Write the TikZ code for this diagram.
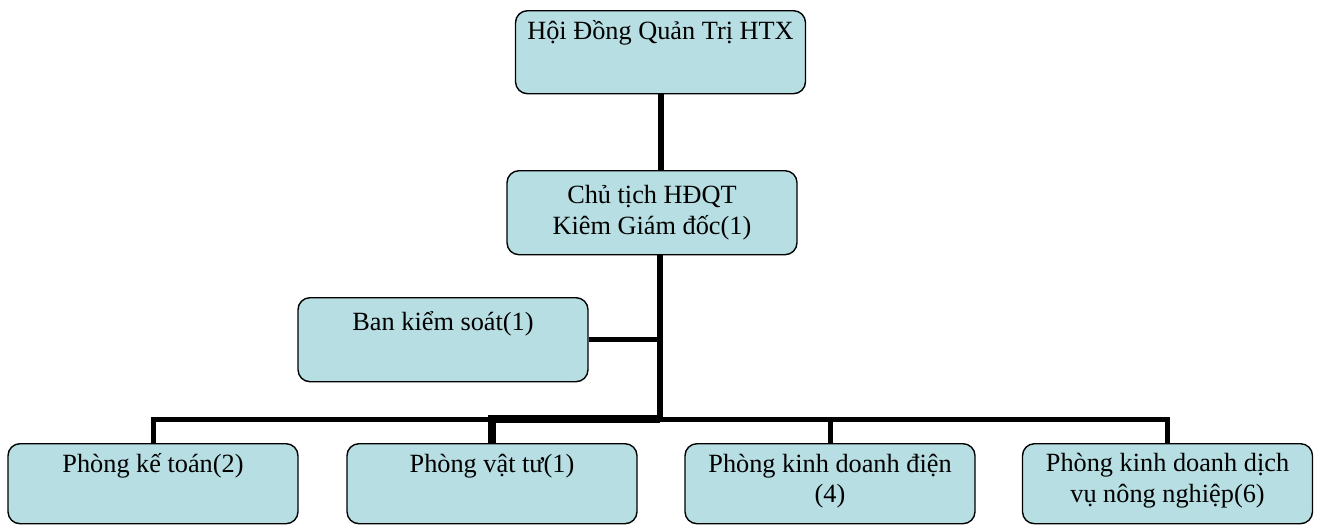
\documentclass[tikz,border=0pt]{standalone}
\usepackage{fontspec}
\setmainfont{Liberation Serif}
\usetikzlibrary{positioning,calc}
\definecolor{orgFill}{RGB}{183,222,226}
\newcommand{\boxtext}[3][t]{\parbox[t][#2][#1]{270pt}{\centering #3}}

\begin{document}
\begin{tikzpicture}[x=1pt,y=-1pt,font=\fontsize{26.3}{30.5}\selectfont,
      unit/.style={draw=black,fill=orgFill,line width=1.4pt,rounded corners=12pt,anchor=north,
        inner xsep=0pt,inner ysep=10pt,minimum width=290pt},
      trunk/.style={line width=6pt},
      link/.style={line width=5pt},
      heavy/.style={line width=8pt}]
      \useasboundingbox (0,0) rectangle (1319,525);
      \node[unit] (htx) at (660.5,10) {\boxtext{63pt}{Hội Đồng Quản Trị HTX}};
      \node[unit] (ct) at (652,170) {\boxtext[c]{64pt}{Chủ tịch HĐQT\\Kiêm Giám đốc(1)}};
      \node[unit,inner ysep=14pt] (bks) at (443,297) {\boxtext{56pt}{Ban kiểm soát(1)}};
      \node[unit] (kt) at (153,443) {\boxtext{60pt}{Phòng kế toán(2)}};
      \node[unit] (vt) at (492,443) {\boxtext{60pt}{Phòng vật tư(1)}};
      \node[unit] (kd) at (830,443) {\boxtext{60pt}{Phòng kinh doanh điện\\(4)}};
      \node[unit] (nn) at (1167.5,443) {\boxtext{60pt}{Phòng kinh doanh dịch\\vụ nông nghiệp(6)}};
      \coordinate (hub) at (660,419);
      \draw[trunk] (htx.south) -- (htx.south |- ct.north);
      \draw[trunk] (hub |- ct.south) -- (hub);
      \draw[link] (bks.east) -- (bks.east -| hub);
      \foreach \d in {kt,kd,nn} \draw[link] (hub) -| (\d.north);
      \draw[heavy] (hub) -| (vt.north);
    \end{tikzpicture}
\end{document}
